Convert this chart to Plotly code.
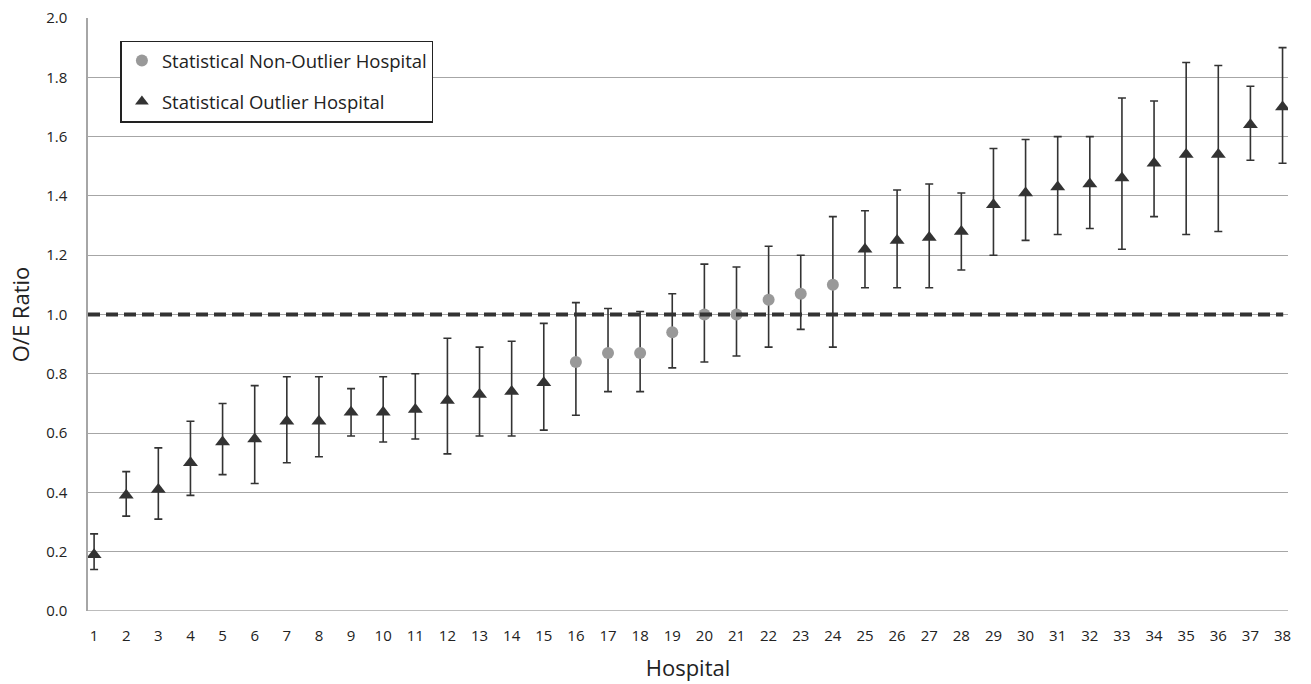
import plotly.graph_objects as go

hospitals = list(range(1, 39))
oe_ratio = [0.19, 0.39, 0.41, 0.50, 0.57, 0.58, 0.64, 0.64, 0.67, 0.67,
            0.68, 0.71, 0.73, 0.74, 0.77, 0.84, 0.87, 0.87, 0.94, 1.00,
            1.00, 1.05, 1.07, 1.10, 1.22, 1.25, 1.26, 1.28, 1.37, 1.41,
            1.43, 1.44, 1.46, 1.51, 1.54, 1.54, 1.64, 1.70]
ci_low = [0.14, 0.32, 0.31, 0.39, 0.46, 0.43, 0.50, 0.52, 0.59, 0.57,
          0.58, 0.53, 0.59, 0.59, 0.61, 0.66, 0.74, 0.74, 0.82, 0.84,
          0.86, 0.89, 0.95, 0.89, 1.09, 1.09, 1.09, 1.15, 1.20, 1.25,
          1.27, 1.29, 1.22, 1.33, 1.27, 1.28, 1.52, 1.51]
ci_high = [0.26, 0.47, 0.55, 0.64, 0.70, 0.76, 0.79, 0.79, 0.75, 0.79,
           0.80, 0.92, 0.89, 0.91, 0.97, 1.04, 1.02, 1.01, 1.07, 1.17,
           1.16, 1.23, 1.20, 1.33, 1.35, 1.42, 1.44, 1.41, 1.56, 1.59,
           1.60, 1.60, 1.73, 1.72, 1.85, 1.84, 1.77, 1.90]
non_outlier = [16, 17, 18, 19, 20, 21, 22, 23, 24]

FONT = "Open Sans"

def subset(cond):
    idx = [i for i, h in enumerate(hospitals) if cond(h)]
    xs = [hospitals[i] for i in idx]
    ys = [oe_ratio[i] for i in idx]
    up = [ci_high[i] - oe_ratio[i] for i in idx]
    dn = [oe_ratio[i] - ci_low[i] for i in idx]
    return xs, ys, up, dn

fig = go.Figure()

xs, ys, up, dn = subset(lambda h: h in non_outlier)
fig.add_trace(go.Scatter(
    x=xs, y=ys, mode="markers", name="Statistical Non-Outlier Hospital",
    legendgroup="a",
    marker=dict(symbol="circle", size=12, color="#999999"),
    error_y=dict(type="data", array=up, arrayminus=dn, color="#333333",
                 thickness=1.6, width=4),
))

xs, ys, up, dn = subset(lambda h: h not in non_outlier)
fig.add_trace(go.Scatter(
    x=xs, y=ys, mode="markers", name="Statistical Outlier Hospital",
    legendgroup="b",
    marker=dict(symbol="triangle-up", size=13, color="#333333"),
    error_y=dict(type="data", array=up, arrayminus=dn, color="#333333",
                 thickness=1.6, width=4),
))

fig.add_shape(type="line", xref="paper", yref="y", x0=0, x1=0.996, y0=1.0, y1=1.0,
              line=dict(color="#333333", width=4, dash="12px,6px"))

fig.update_layout(
    width=1311, height=684,
    margin=dict(l=88, r=23, t=18, b=73),
    paper_bgcolor="white", plot_bgcolor="white",
    font=dict(family=FONT, size=15, color="#222222"),
    showlegend=True,
    legend=dict(x=0.027, y=0.962, xanchor="left", yanchor="top",
                bordercolor="#222222", borderwidth=1.5, bgcolor="white",
                font=dict(family=FONT, size=18.5, color="#222222"),
                itemsizing="constant", tracegroupgap=14, itemwidth=30),
    xaxis=dict(range=[0.81, 38.17], tickmode="linear", tick0=1, dtick=1,
               showgrid=False, zeroline=False, showline=False, automargin=False,
               ticks="", tickfont=dict(size=15), ticklabelstandoff=14,
               title=dict(text="Hospital", font=dict(size=22), standoff=16)),
    yaxis=dict(range=[0, 2.0], tickmode="linear", tick0=0, dtick=0.2,
               tickformat=".1f", showgrid=True, gridcolor="#a6a6a6", gridwidth=1,
               zeroline=False, showline=True, linecolor="#a6a6a6", linewidth=1.5,
               automargin=False,
               ticks="", tickfont=dict(size=15), ticklabelstandoff=16,
               title=dict(text="O/E Ratio", font=dict(size=22), standoff=10)),
)

fig.add_shape(type="line", xref="paper", yref="y", x0=0, x1=1, y0=0, y1=0,
              line=dict(color="#a6a6a6", width=1.5), layer="below")

fig.write_html("out.html")
